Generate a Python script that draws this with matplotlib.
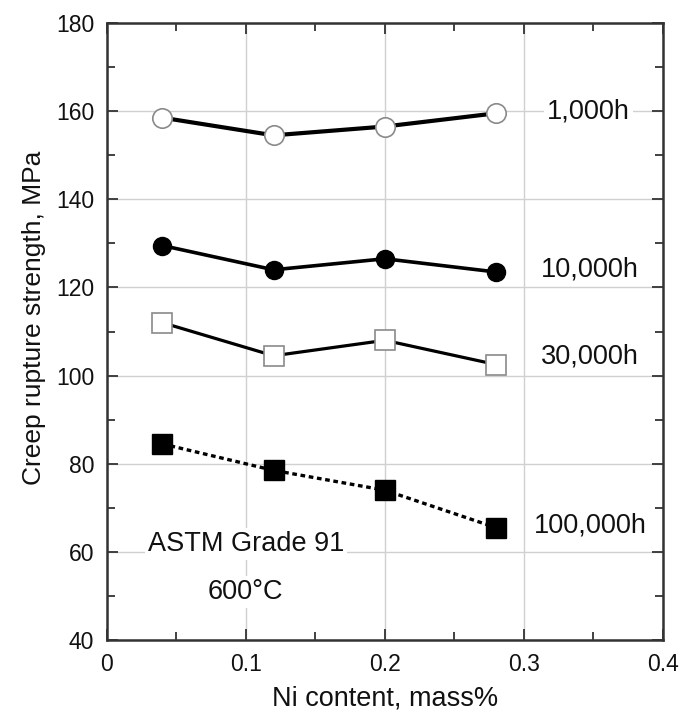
import matplotlib
matplotlib.use("Agg")
import matplotlib.pyplot as plt
from matplotlib.ticker import MultipleLocator

plt.rcParams['font.family'] = ['Liberation Sans', 'DejaVu Sans']

ni_content = [0.04, 0.12, 0.20, 0.28]
s_1000h = [158.5, 154.5, 156.5, 159.5]
s_10000h = [129.5, 124.0, 126.5, 123.5]
s_30000h = [112.0, 104.5, 108.0, 102.5]
s_100000h = [84.5, 78.5, 74.0, 65.5]
series_labels = ["1,000h", "10,000h", "30,000h", "100,000h"]

fig = plt.figure(figsize=(6.8, 7.16), dpi=100)
ax = fig.add_axes([0.157, 0.106, 0.818, 0.862])

ax.set_xlim(0, 0.4)
ax.set_ylim(40, 180)
ax.xaxis.set_major_locator(MultipleLocator(0.1))
ax.xaxis.set_minor_locator(MultipleLocator(0.05))
ax.yaxis.set_major_locator(MultipleLocator(20))
ax.yaxis.set_minor_locator(MultipleLocator(10))
ax.set_xticks([0, 0.1, 0.2, 0.3, 0.4])
ax.set_xticklabels(["0", "0.1", "0.2", "0.3", "0.4"])

ax.grid(True, which='major', color='#d0d0d0', linewidth=1.0)
ax.set_axisbelow(True)

ax.tick_params(which='both', direction='in', top=True, right=True,
               labelsize=16.5, color='#333333', labelcolor='#111111')
ax.tick_params(axis='x', pad=9)
ax.tick_params(axis='y', pad=9)
ax.tick_params(which='major', length=8, width=1.3)
ax.tick_params(which='minor', length=6, width=1.3)
for sp in ax.spines.values():
    sp.set_linewidth(1.8)
    sp.set_color('#333333')

ax.plot(ni_content, s_1000h, '-', color='black', lw=3.0, marker='o', ms=14,
        mfc='white', mec='#8a8a8a', mew=1.2, zorder=3)
ax.plot(ni_content, s_10000h, '-', color='black', lw=2.6, marker='o', ms=13,
        mfc='black', mec='black', zorder=3)
ax.plot(ni_content, s_30000h, '-', color='black', lw=2.3, marker='s', ms=14,
        mfc='white', mec='#8a8a8a', mew=1.2, zorder=3)
ax.plot(ni_content, s_100000h, linestyle=(0, (1.4, 1.1)), color='black', lw=2.4,
        marker='s', ms=14, mfc='black', mec='black', zorder=3)

label_x = [0.3465, 0.3475, 0.3475, 0.3475]
label_y = [159.8, 124.0, 104.4, 66.1]
for lx, ly, txt in zip(label_x, label_y, series_labels):
    ax.text(lx, ly, txt, fontsize=19.5, ha='center', va='center', color='#111111',
            bbox=dict(facecolor='white', edgecolor='none', pad=2))

ax.text(0.1, 61.8, "ASTM Grade 91", fontsize=19.5, ha='center', va='center',
        color='#111111', bbox=dict(facecolor='white', edgecolor='none', pad=2))
ax.text(0.1, 50.9, "600\u00b0C", fontsize=19.5, ha='center', va='center',
        color='#111111', bbox=dict(facecolor='white', edgecolor='none', pad=2))

ax.set_xlabel("Ni content, mass%", fontsize=19.5, labelpad=7, color='#111111')
ax.set_ylabel("Creep rupture strength, MPa", fontsize=19, color='#111111')
ax.yaxis.set_label_coords(-0.11, 0.523)

fig.savefig("out.png", dpi=100)
